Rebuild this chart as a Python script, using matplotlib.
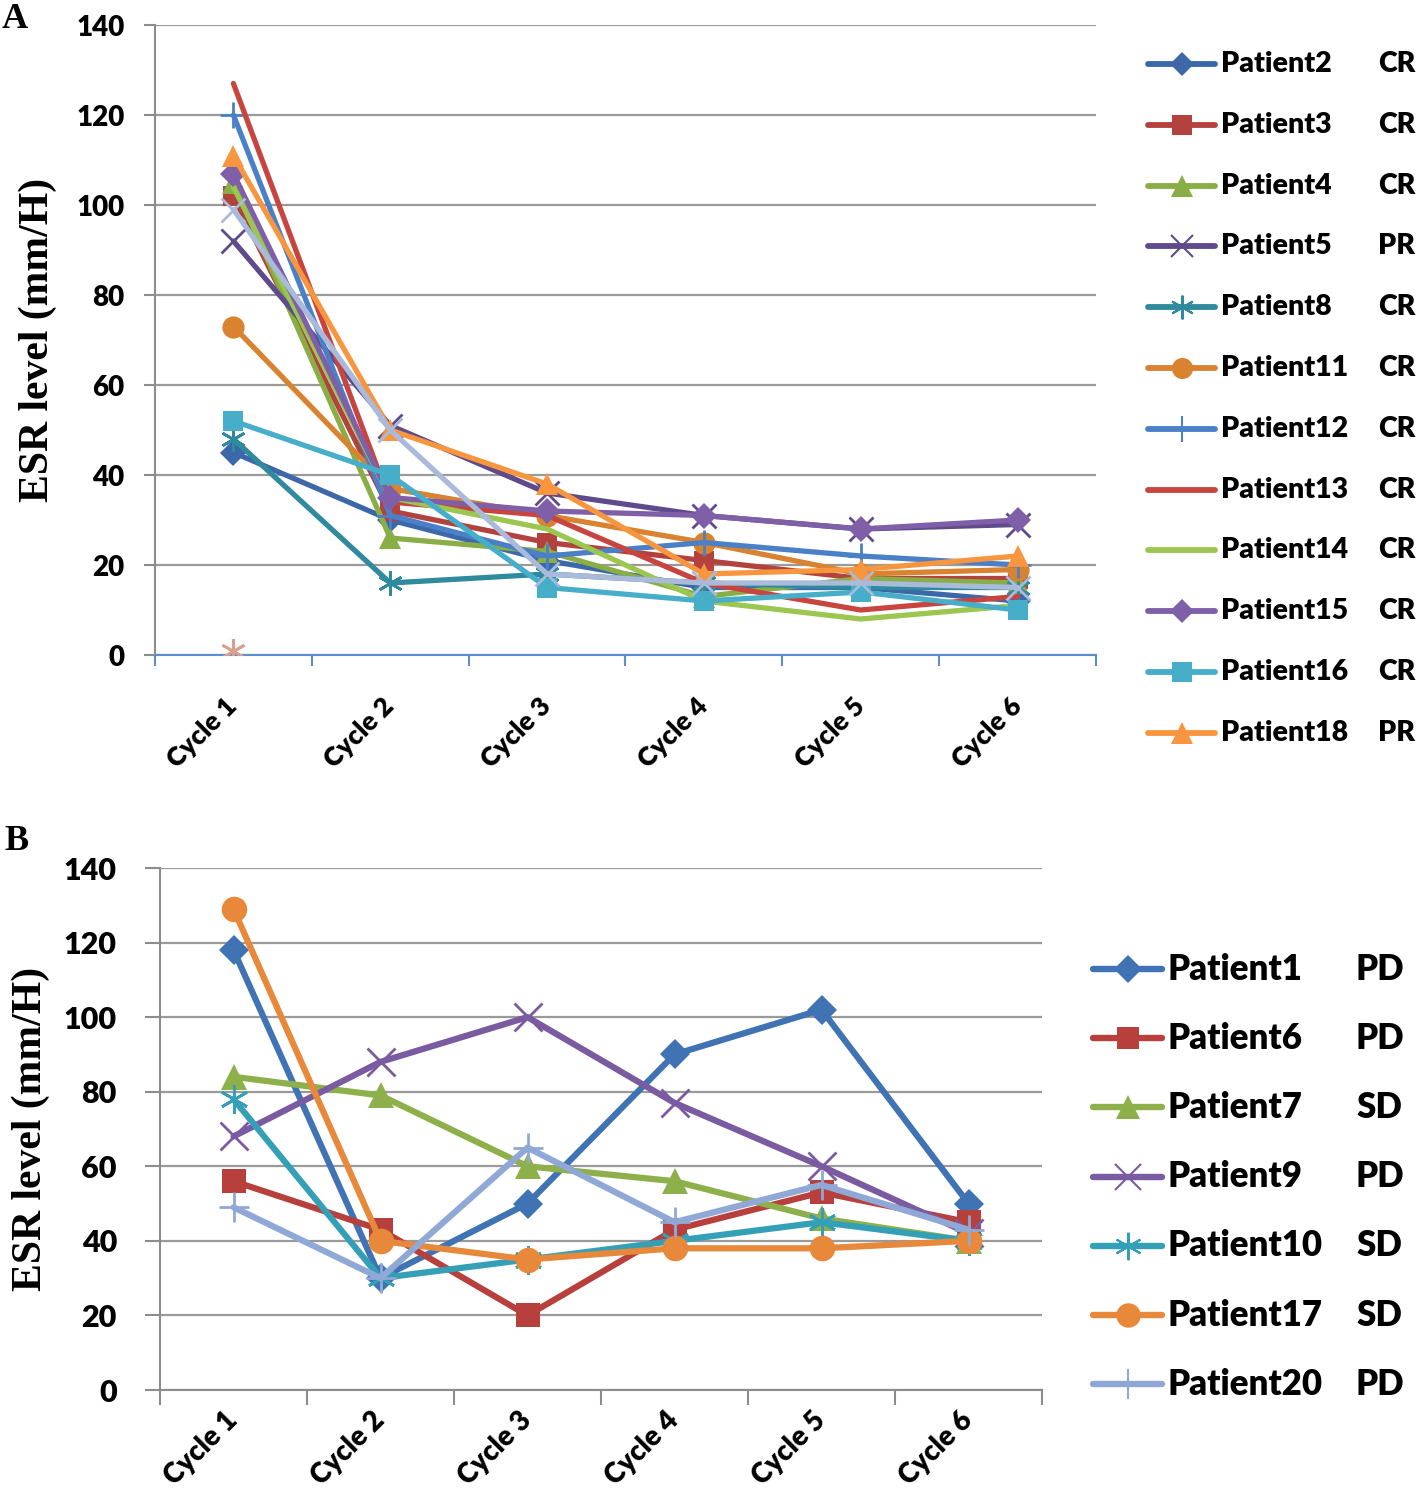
import numpy as np
import matplotlib
matplotlib.use("Agg")
import matplotlib.pyplot as plt
from matplotlib.lines import Line2D

# ---------------- data ----------------
cycles = ["Cycle 1", "Cycle 2", "Cycle 3", "Cycle 4", "Cycle 5", "Cycle 6"]
yticks = [0, 20, 40, 60, 80, 100, 120, 140]

# Panel A
a_names = ["Patient2", "Patient3", "Patient4", "Patient5", "Patient8", "Patient11",
           "Patient12", "Patient13", "Patient14", "Patient15", "Patient16", "Patient18"]
a_status = ["CR", "CR", "CR", "PR", "CR", "CR", "CR", "CR", "CR", "CR", "CR", "PR"]
p2 = [45, 30, 21, 15, 15, 12]
p3 = [102, 32, 25, 21, 17, 17]
p4 = [105, 26, 23, 13, 17, 16]
p5 = [92, 51, 36, 31, 28, 29]
p8 = [48, 16, 18, 16, 15, 15]
p11 = [73, 37, 31, 25, 18, 19]
p12 = [120, 31, 22, 25, 22, 20]
p13 = [127, 34, 31, 16, 10, 13]
p14 = [104, 35, 28, 12, 8, 11]
p15 = [107, 35, 32, 31, 28, 30]
p16 = [52, 40, 15, 12, 14, 10]
p18 = [111, 50, 38, 18, 19, 22]
a_extra1 = [99, 50, 18, 16, 16, 15]          # unlabeled series (light blue x)
a_extra2 = [1, np.nan, np.nan, np.nan, np.nan, np.nan]  # unlabeled series (tan asterisk)

# Panel B
b_names = ["Patient1", "Patient6", "Patient7", "Patient9", "Patient10", "Patient17", "Patient20"]
b_status = ["PD", "PD", "SD", "PD", "SD", "SD", "PD"]
q1 = [118, 30, 50, 90, 102, 50]
q6 = [56, 43, 20, 43, 53, 45]
q7 = [84, 79, 60, 56, 46, 40]
q9 = [68, 88, 100, 77, 60, 42]
q10 = [78, 30, 35, 40, 45, 40]
q17 = [129, 40, 35, 38, 38, 40]
q20 = [49, 30, 65, 45, 55, 43]

# ---------------- styles ----------------
AST = (6, 2, 0)
a_vals = [p2, p3, p4, p5, p8, p11, p12, p13, p14, p15, p16, p18]
a_colors = ["#3C67A8", "#B3413D", "#8AAE46", "#5F4A8B", "#2F8A9E", "#D9822F",
            "#4A80C8", "#C8453F", "#9BC650", "#7E5FA8", "#47AEC9", "#F8963F"]
a_markers = ["D", "s", "^", "x", AST, "o", "+", None, None, "D", "s", "^"]
b_vals = [q1, q6, q7, q9, q10, q17, q20]
b_colors = ["#3F73B4", "#B8403C", "#8DB04A", "#7A5AA0", "#34A0B8", "#E8883A", "#8FA8D6"]
b_markers = ["D", "s", "^", "x", AST, "o", "+"]

thin = {"x", "+", AST}

def msize(m, scale=1.0):
    base = {"D": 13, "s": 15, "^": 16, "o": 16, "x": 17, "+": 19, AST: 18}
    return base.get(m, 0) * scale

TICKFONT = "Lato"
SERIF = "Liberation Serif"

W, H = 1418, 1497
fig = plt.figure(figsize=(W / 100, H / 100), dpi=100)

def px2fig(x, y):
    return x / W, 1 - y / H

def setup_axes(ax, xaxis_color, tick_fs, xtick_fs, ytickpad, ytick_len, xlabel_pad):
    x = np.arange(len(cycles))
    ax.set_xlim(-0.5, len(cycles) - 0.5)
    ax.set_ylim(0, 140)
    ax.set_yticks(yticks)
    ax.set_yticklabels([str(v) for v in yticks], fontfamily=TICKFONT,
                       fontweight="heavy", fontsize=tick_fs)
    ax.set_xticks(x)
    ax.set_xticklabels(cycles, rotation=45, ha="right", va="center",
                       rotation_mode="anchor", fontfamily=TICKFONT,
                       fontweight="heavy", fontsize=xtick_fs)
    ax.set_xticks(np.arange(-0.5, len(cycles)), minor=True)
    ax.tick_params(axis="x", which="major", length=0, pad=xlabel_pad)
    ax.tick_params(axis="x", which="minor", length=ytick_len, width=1.5,
                   color=xaxis_color, direction="out")
    ax.tick_params(axis="y", which="major", length=ytick_len, width=1.5,
                   color="#8C8C8C", pad=ytickpad, direction="out")
    for s in ["top", "right"]:
        ax.spines[s].set_visible(False)
    ax.spines["left"].set_color("#8C8C8C")
    ax.spines["left"].set_linewidth(1.5)
    ax.spines["bottom"].set_color(xaxis_color)
    ax.spines["bottom"].set_linewidth(1.5)
    ax.grid(axis="y", color="#9A9A9A", linewidth=1.6)
    ax.set_axisbelow(True)

def plot_series(ax, vals, color, marker, lw, scale, z):
    x = np.arange(len(cycles))
    kw = dict(color=color, linewidth=lw, zorder=z, solid_joinstyle="round",
              solid_capstyle="round")
    if marker is not None:
        kw["marker"] = marker
        kw["markersize"] = msize(marker, scale)
        if marker in thin:
            kw["markeredgewidth"] = 2.0
        else:
            kw["markeredgewidth"] = 0
            kw["markerfacecolor"] = color
    ax.plot(x, vals, **kw)

def draw_legend(names, status, colors, markers, x0, x1, xtext, xstat, y0, dy, fs, lw, scale):
    for i, (n, st, c, m) in enumerate(zip(names, status, colors, markers)):
        y = y0 + i * dy
        fx0, fy = px2fig(x0, y)
        fx1, _ = px2fig(x1, y)
        kw = dict(color=c, linewidth=lw, solid_capstyle="round")
        if m is not None:
            kw.update(marker=m, markevery=[1], markersize=msize(m, scale))
            if m in thin:
                kw["markeredgewidth"] = 1.5
            else:
                kw["markeredgewidth"] = 0
                kw["markerfacecolor"] = c
        ln = Line2D([fx0, (fx0 + fx1) / 2, fx1], [fy, fy, fy], transform=fig.transFigure, **kw)
        fig.add_artist(ln)
        fig.text(xtext / W, fy, n, ha="left", va="center", fontfamily=TICKFONT,
                 fontweight="heavy", fontsize=fs)
        fig.text(xstat / W, fy, st, ha="left", va="center", fontfamily=TICKFONT,
                 fontweight="heavy", fontsize=fs)

# ---------------- Panel A ----------------
l, b = px2fig(155, 655)
r, t = px2fig(1096, 25)
axA = fig.add_axes([l, b, r - l, t - b])
setup_axes(axA, "#5B8FD0", 20, 19, 14, 8, 34)
for i, (v, c, m) in enumerate(zip(a_vals, a_colors, a_markers)):
    plot_series(axA, v, c, m, 3.8, 1.0, 3 + i * 0.01)
plot_series(axA, a_extra1, "#A9BADA", "x", 3.8, 1.0, 3.5)
plot_series(axA, a_extra2, "#D9A090", AST, 3.8, 1.0, 3.5)
axA.set_ylabel("ESR level (mm/H)", fontfamily=SERIF, fontweight="bold", fontsize=30,
               labelpad=14)
fig.text(2 / W, 1 - 20 / H, "A", fontfamily=SERIF, fontweight="bold", fontsize=26,
         ha="left", va="center")
draw_legend(a_names, a_status, a_colors, a_markers, 1148, 1215, 1221, 1378,
            64, 60.8, 20.5, 4.2, 0.95)

# ---------------- Panel B ----------------
l, b = px2fig(160, 1390)
r, t = px2fig(1042, 868)
axB = fig.add_axes([l, b, r - l, t - b])
setup_axes(axB, "#8C8C8C", 22, 20, 20, 11, 19)
for i, (v, c, m) in enumerate(zip(b_vals, b_colors, b_markers)):
    plot_series(axB, v, c, m, 4.5, 1.15, 3 + i * 0.01)
axB.set_ylabel("ESR level (mm/H)", fontfamily=SERIF, fontweight="bold", fontsize=30,
               labelpad=10)
fig.text(4 / W, 1 - 842 / H, "B", fontfamily=SERIF, fontweight="bold", fontsize=26,
         ha="left", va="center")
draw_legend(b_names, b_status, b_colors, b_markers, 1093, 1162, 1167, 1356,
            969, 69.2, 25, 4.6, 1.1)

fig.savefig("out.png", dpi=100)
